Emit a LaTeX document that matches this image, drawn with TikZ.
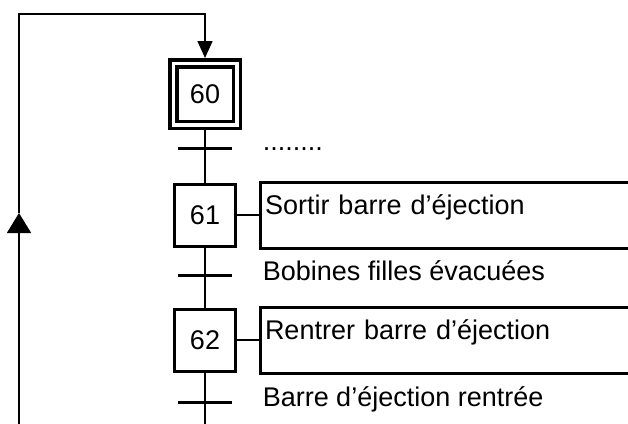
\documentclass[tikz,border=0pt]{standalone}
\usepackage{fontspec}
\setmainfont{Liberation Sans}
\usetikzlibrary{arrows.meta,positioning}

\begin{document}
\begin{tikzpicture}[x=1pt,y=-1pt,line width=1.5pt,
  every node/.style={font=\fontsize{27}{31}\selectfont},
  etape/.style={draw,line width=3pt,minimum width=61pt,minimum height=62pt,inner sep=0pt},
  etape init/.style={draw,double,line width=3.5pt,double distance=3.5pt,
    minimum width=63.5pt,minimum height=61.5pt,outer sep=5.25pt,inner sep=0pt},
  action/.style={draw,line width=3pt,anchor=base west,text height=31.5pt,text depth=34.5pt,
    inner ysep=0pt,inner xsep=4.5pt,text width=400pt,align=left},
  transition/.style={fill=black,minimum width=54pt,minimum height=3pt,inner sep=0pt},
  recept/.style={anchor=base west,inner sep=0pt}]

  \useasboundingbox (0,0) rectangle (628,423);

  % etapes
  \node[etape init] (s60) at (205,94) {60};
  \node[etape] (s61) at (205,215) {61};
  \node[etape] (s62) at (205,340) {62};

  % transitions
  \node[transition] (t1) at (205,148) {};
  \node[transition] (t2) at (205,275) {};
  \node[transition] (t3) at (205,402) {};
  \node[recept] (r1) at (262,150) {........};
  \node[recept] (r2) at (262,280) {Bobines filles évacuées};
  \node[recept] (r3) at (262,406) {Barre d'éjection rentrée};

  % actions
  \node[action] (a61) at (259,214) {Sortir barre d'éjection};
  \node[action] (a62) at (259,339) {Rentrer barre d'éjection};
  \draw (s61.east) -- (s61.east -| a61.west);
  \draw (s62.east) -- (s62.east -| a62.west);

  % liaisons
  \coordinate (bas) at (205,430);
  \draw (s60) -- (s61);
  \draw (s61) -- (s62);
  \draw (s62) -- (bas);

  % retour
  \coordinate (bg) at (19,430);
  \coordinate (fl) at (19,213);
  \coordinate (hg) at (19,14);
  \draw[-{Triangle[width=24pt,length=20pt]}] (bg) -- (fl);
  \draw[-{Triangle[width=15pt,length=17pt]}] (fl) -- (hg) -| (s60.north);
\end{tikzpicture}
\end{document}
